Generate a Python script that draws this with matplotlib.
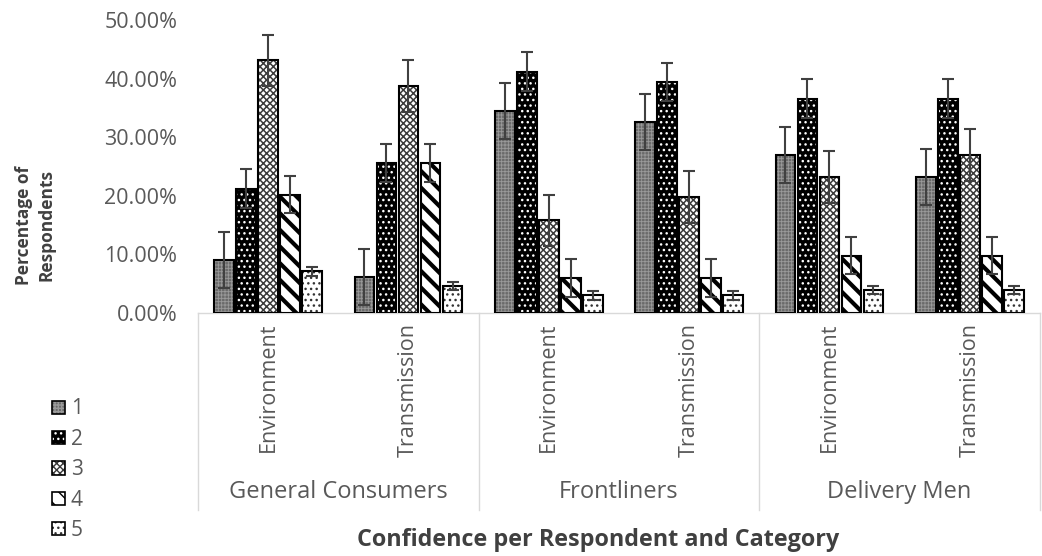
import matplotlib
matplotlib.use("Agg")
import matplotlib.pyplot as plt
from matplotlib.patches import Patch
from matplotlib.legend_handler import HandlerTuple
from matplotlib.ticker import PercentFormatter
import numpy as np

# confidence levels (legend) and categories
levels = ["1", "2", "3", "4", "5"]
groups = ["General Consumers", "Frontliners", "Delivery Men"]
subcats = ["Environment", "Transmission"]

# percentage of respondents, one list per confidence level,
# ordered GC-Env, GC-Trans, FL-Env, FL-Trans, DM-Env, DM-Trans
level1 = [9.0, 6.2, 34.5, 32.6, 27.0, 23.2]
level2 = [21.2, 25.6, 41.2, 39.4, 36.6, 36.6]
level3 = [43.1, 38.7, 15.8, 19.8, 23.2, 27.0]
level4 = [20.2, 25.6, 6.0, 6.0, 9.8, 9.8]
level5 = [7.1, 4.6, 3.0, 3.0, 3.9, 3.9]
# standard error per level (same for every bar of a level)
level_err = [4.8, 3.3, 4.4, 3.2, 0.7]

series = [level1, level2, level3, level4, level5]

# fill colour, hatch, hatch colour, hatch linewidth
styles = [
    ("#6a6a6a", "+++++", "#9a9a9a", 0.6),
    ("#000000", "...", "#ffffff", 1.0),
    ("#ffffff", "xxxxx", "#3a3a3a", 1.1),
    ("#ffffff", "\\\\", "#000000", 3.0),
    ("#ffffff", "...", "#333333", 1.0),
]

GRAY = "#595959"
DARK = "#404040"
plt.rcParams["font.family"] = ["Open Sans", "DejaVu Sans"]

fig = plt.figure(figsize=(10.42, 5.56), dpi=100)
ax = fig.add_axes([0.190, 0.437, 0.808, 0.527])

x = np.arange(len(groups) * len(subcats))
width = 0.14
step = 0.157

handles = []
for i, (vals, (fc, hatch, hc, hlw)) in enumerate(zip(series, styles)):
    pos = x + (i - 2) * step
    frac = [v / 100 for v in vals]
    with plt.rc_context({"hatch.linewidth": hlw}):
        ax.bar(pos, frac, width, color=fc, hatch=hatch,
               edgecolor=hc, linewidth=0, zorder=2)
        fill = Patch(facecolor=fc, hatch=hatch, edgecolor=hc, linewidth=0)
    ax.bar(pos, frac, width, facecolor="none",
           edgecolor="black", linewidth=1.5, zorder=3)
    ax.errorbar(pos, frac, yerr=level_err[i] / 100,
                fmt="none", ecolor=DARK, elinewidth=1.5, capsize=4,
                capthick=1.5, zorder=4)
    edge = Patch(facecolor="none", edgecolor="black", linewidth=1.2)
    handles.append((fill, edge))

ax.set_ylim(0, 0.5)
ax.set_xlim(-0.5, len(x) - 0.5)
ax.yaxis.set_major_formatter(PercentFormatter(1.0, decimals=2))
ax.set_yticks(np.arange(0, 0.51, 0.1))
ax.set_xticks(x)
ax.set_xticklabels(subcats * len(groups), rotation=90, va="top")
ax.tick_params(axis="y", length=0, pad=15, labelsize=15.5, labelcolor=GRAY)
ax.tick_params(axis="x", length=0, pad=7, labelsize=15.5, labelcolor=GRAY)

for s in ["top", "right", "left"]:
    ax.spines[s].set_visible(False)
ax.spines["bottom"].set_color("#d9d9d9")
ax.spines["bottom"].set_linewidth(1.0)

# two-level category axis
trans = ax.get_xaxis_transform()
for b in [-0.5, 1.5, 3.5, 5.5]:
    ax.plot([b, b], [0, -0.672], transform=trans, color="#d9d9d9",
            linewidth=1.0, clip_on=False)
for g, name in enumerate(groups):
    ax.text(2 * g + 0.5, -0.611, name, transform=trans, ha="center",
            va="center", fontsize=17, color=GRAY)

fig.text(0.574, 0.029, "Confidence per Respondent and Category",
         ha="center", va="center", fontsize=16.8, fontweight="bold",
         color=DARK)
fig.text(0.034, 0.595, "Percentage of\nRespondents", ha="center",
         va="center", rotation=90, fontsize=12.5, fontweight="bold",
         color=DARK, linespacing=1.3)

leg = fig.legend(handles, levels, loc="upper left",
                 bbox_to_anchor=(0.032, 0.317), frameon=False,
                 fontsize=15, handlelength=0.6, handleheight=0.6,
                 handletextpad=0.3, labelspacing=0.45,
                 handler_map={tuple: HandlerTuple(ndivide=1)})
for t in leg.get_texts():
    t.set_color(GRAY)

fig.savefig("out.png", dpi=100)
